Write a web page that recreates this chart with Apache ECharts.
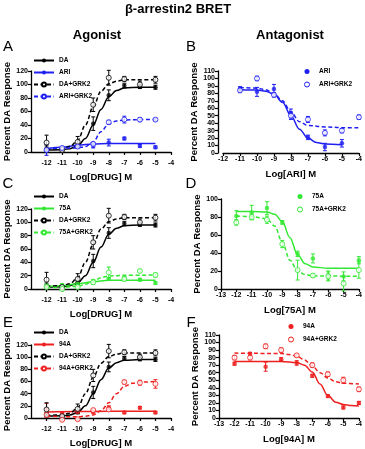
<!DOCTYPE html>
<html><head><meta charset="utf-8">
<script src="https://cdn.jsdelivr.net/npm/echarts@6/dist/echarts.min.js"></script>
<style>html,body{margin:0;padding:0;background:#fff}#c{width:365px;height:449px}</style>
</head><body><div id="c"></div><script>
// ---------- data ----------
const xTicks = [-13,-12,-11,-10,-9,-8,-7,-6,-5,-4];
const dose = [-12,-11,-10,-9,-8,-7,-6,-5];
// DA (shared A, C, E)
const daMean = [5,3,10,42,84,98,97,96];
const daErr = [4,2,3,10,8,3,3,3];
const daFitX = [-12,-11,-10.5,-10,-9.5,-9,-8.5,-8,-7.5,-7,-6,-5];
const daFit = [3,3.5,5,9,20,40,63,82,91,95,96,96];
const daGMean = [14,3,15,70,110,108,100,107];
const daGErr = [11,2,8,10,11,4,5,5];
const daGFitX = [-12,-11,-10.5,-10,-9.5,-9,-8.5,-8,-7.5,-7,-6,-5];
const daGFit = [4,5,8,17,40,67,90,101,105,107,107,107];
// A: ARI agonist
const ariMean = [3,6,8,9,14,20,9,7];
const ariErr = [8,1,2,3,5,2,2,2];
const ariFitX = [-12,-11,-10,-9,-8,-5];
const ariFit = [5,7,10,12,12.5,12.5];
const ariGMean = [3,6,8,12,44,48,48,48];
const ariGErr = [2,2,2,2,3,5,3,2];
const ariGFitX = [-12,-10,-9.5,-9,-8.5,-8,-7.5,-7,-6,-5];
const ariGFit = [5,6,8,15,30,42,46,47.5,48,48];
// B: ARI antagonist
const bDose = [-11,-10,-9,-8,-7,-6,-5];
const bAriMean = [86,82,86,53,21,8,13];
const bAriErr = [3,6,6,6,3,5,5];
const bAriFitX = [-11,-10,-9.5,-9,-8.5,-8,-7.5,-7,-6.5,-6,-5];
const bAriFit = [85,84.5,83,79,68,50,32,20,14,12,11];
const bDoseG = [-11,-10,-9,-8,-7,-6,-5,-4];
const bAriGMean = [84,100,78,50,45,27,30,48];
const bAriGErr = [3,3,3,5,4,4,3,3];
const bAriGFitX = [-11,-10,-9.5,-9,-8.5,-8,-7.5,-7,-6,-5,-4];
const bAriGFit = [88,87,85,80,70,55,42,37,35,34,34];
// C: 75A agonist
const c75Mean = [5,6,8,12,15,16,14,9];
const c75Err = [2,2,2,2,2,2,2,2];
const c75FitX = [-12,-11,-10,-9,-8,-5];
const c75Fit = [4,5,8,11,13,13];
const c75GMean = [3,0,3,10,25,15,27,21];
const c75GErr = [2,2,2,3,8,3,2,3];
const c75GFitX = [-12,-11,-10,-9.5,-9,-8.5,-8,-7,-5];
const c75GFit = [2,2.5,4,7,12,17,19.5,20.5,21];
// D: 75A antagonist
const dDose = [-12,-11,-10,-9,-8,-7,-6,-5,-4];
const d75Mean = [81,85,90,74,39,34,15,14,32];
const d75Err = [6,8,7,2,3,5,5,5,4];
const d75FitX = [-12,-11,-10,-9.5,-9,-8.5,-8,-7.5,-7,-6,-4];
const d75Fit = [86,86,85.5,83,75,57,38,28,24.5,23,23];
const d75GMean = [74,80,77,50,21,15,14,6,21];
const d75GErr = [3,3,4,4,11,2,5,8,9];
const d75GFitX = [-12,-11,-10,-9.5,-9,-8.5,-8,-7.5,-7,-4];
const d75GFit = [81,80.5,78,70,52,32,20,16,14.5,14];
// E: 94A agonist
const e94Mean = [14,7,10,10,17,9,17,9];
const e94Err = [10,2,2,2,3,2,2,2];
const e94FitX = [-12,-10,-8,-5];
const e94Fit = [10,10.5,11,11];
const e94GMean = [5,-3,-2,13,14,59,58,56];
const e94GErr = [3,2,2,2,3,3,4,7];
const e94GFitX = [-12,-10,-9.5,-9,-8.5,-8,-7.5,-7,-6.5,-6,-5];
const e94GFit = [3,2,3,5,12,25,40,52,57,59,60];
// F: 94A antagonist
const fDose = [-12,-11,-10,-9,-8,-7,-6,-5,-4];
const f94Mean = [72,85,68,78,73,56,29,14,20];
const f94Err = [2,2,6,2,3,2,2,2,2];
const f94FitX = [-12,-9,-8,-7.5,-7,-6.5,-6,-5.5,-5,-4.5,-4];
const f94Fit = [75,75,73.5,70,61,45,30,21,18,16.5,16];
const f94GMean = [80,80,95,90,83,70,58,50,38];
const f94GErr = [3,3,3,3,2,3,3,4,3];
const f94GFitX = [-12,-9,-8.5,-8,-7.5,-7,-6.5,-6,-5.5,-5,-4];
const f94GFit = [86,85.5,84,82,77,69,60,53,48,46,45];

// ---------- styling ----------
const BLACK='#000', BLUE='#1f1ff2', GREEN='#33e833', RED='#ee1f1f';
const FONT='Liberation Sans';
const zip=(a,b)=>a.map((v,i)=>[v,b[i]]);
const zip3=(a,b,c)=>a.map((v,i)=>[v,b[i],c[i]]);

const grids = [
  {left:31, top:71, width:140, height:81},   // A
  {left:223, top:71, width:137, height:82},  // B
  {left:31, top:209, width:140, height:80},  // C
  {left:221, top:199, width:139, height:90}, // D
  {left:31, top:345, width:140, height:80},  // E
  {left:219, top:335, width:141, height:83}  // F
];
const axisLine={lineStyle:{color:'#000',width:1.3}};
const tick={length:3,lineStyle:{color:'#000',width:1.2}};
const lab={color:'#000',fontSize:7,fontWeight:'bold',fontFamily:FONT,margin:3};
const xNames=['Log[DRUG] M','Log[ARI] M','Log[DRUG] M','Log[75A] M','Log[DRUG] M','Log[94A] M'];
const xMins=[-13,-12,-13,-13,-13,-13];
const yMax=[120,110,120,100,120,110];
const yInt=[20,10,20,20,20,10];
const xAxes=grids.map((g,i)=>({
  type:'value', gridIndex:i, min:xMins[i], max:-4, interval:1,
  offset:(i%2===0)?5:0,
  axisLine, axisTick:tick, splitLine:{show:false},
  axisLabel:Object.assign({},lab,{showMinLabel:(i%2===1)}),
  name:xNames[i], nameLocation:'middle', nameGap:(i%2===0)?15:16,
  nameTextStyle:{color:'#000',fontSize:9.5,fontWeight:'bold',fontFamily:FONT}
}));
const yAxes=grids.map((g,i)=>({
  type:'value', gridIndex:i, min:0, max:yMax[i], interval:yInt[i],
  offset:(i===1)?5:0,
  axisLine:Object.assign({show:true},axisLine), axisTick:Object.assign({show:true},tick), splitLine:{show:false},
  axisLabel:lab,
  name:'Percent DA Response', nameLocation:'middle', nameGap:(i%2===0)?17:18,
  nameTextStyle:{color:'#000',fontSize:9.5,fontWeight:'bold',fontFamily:FONT}
}));

function markStyle(color,filled){
  return filled?{color,borderWidth:0}:{color:'#fff',borderColor:color,borderWidth:1};
}
const series=[];
function add(gi,name,color,filled,dashed,x,mean,err,fx,fy){
  series.push({
    type:'line', name, xAxisIndex:gi, yAxisIndex:gi, data:zip(fx,fy),
    smooth:0.35, smoothMonotone:'x', showSymbol:false,
    symbol:'circle', symbolSize:4,
    itemStyle:markStyle(color,filled), lineStyle:{color,width:1.5,type:dashed?[4,2.5]:'solid'},
    silent:true, z:2, animation:false
  });
  series.push({
    type:'custom', xAxisIndex:gi, yAxisIndex:gi, data:zip3(x,mean,err), clip:false,
    silent:true, z:3, animation:false,
    renderItem:(p,api)=>{
      const xv=api.value(0), yv=api.value(1), e=api.value(2);
      const t=api.coord([xv,yv+e]), b=api.coord([xv,yv-e]);
      const c=2;
      const st={stroke:color,lineWidth:1};
      return {type:'group',children:[
        {type:'line',shape:{x1:t[0],y1:t[1],x2:b[0],y2:b[1]},style:st},
        {type:'line',shape:{x1:t[0]-c,y1:t[1],x2:t[0]+c,y2:t[1]},style:st},
        {type:'line',shape:{x1:b[0]-c,y1:b[1],x2:b[0]+c,y2:b[1]},style:st}
      ]};
    }
  });
  series.push({
    type:'scatter', xAxisIndex:gi, yAxisIndex:gi, data:zip(x,mean), clip:false,
    symbol:'circle', symbolSize:filled?4.5:5,
    itemStyle:markStyle(color,filled),
    silent:true, z:4, animation:false
  });
}
// A
add(0,'DA',BLACK,true,false,dose,daMean,daErr,daFitX,daFit);
add(0,'ARI',BLUE,true,false,dose,ariMean,ariErr,ariFitX,ariFit);
add(0,'DA+GRK2',BLACK,false,true,dose,daGMean,daGErr,daGFitX,daGFit);
add(0,'ARI+GRK2',BLUE,false,true,dose,ariGMean,ariGErr,ariGFitX,ariGFit);
// B
add(1,'ARI ',BLUE,true,false,bDose,bAriMean,bAriErr,bAriFitX,bAriFit);
add(1,'ARI+GRK2 ',BLUE,false,true,bDoseG,bAriGMean,bAriGErr,bAriGFitX,bAriGFit);
// C
add(2,'DA',BLACK,true,false,dose,daMean,daErr,daFitX,daFit);
add(2,'75A',GREEN,true,false,dose,c75Mean,c75Err,c75FitX,c75Fit);
add(2,'DA+GRK2',BLACK,false,true,dose,daGMean,daGErr,daGFitX,daGFit);
add(2,'75A+GRK2',GREEN,false,true,dose,c75GMean,c75GErr,c75GFitX,c75GFit);
// D
add(3,'75A ',GREEN,true,false,dDose,d75Mean,d75Err,d75FitX,d75Fit);
add(3,'75A+GRK2 ',GREEN,false,true,dDose,d75GMean,d75GErr,d75GFitX,d75GFit);
// E
add(4,'DA',BLACK,true,false,dose,daMean,daErr,daFitX,daFit);
add(4,'94A',RED,true,false,dose,e94Mean,e94Err,e94FitX,e94Fit);
add(4,'DA+GRK2',BLACK,false,true,dose,daGMean,daGErr,daGFitX,daGFit);
add(4,'94A+GRK2',RED,false,true,dose,e94GMean,e94GErr,e94GFitX,e94GFit);
// F
add(5,'94A ',RED,true,false,fDose,f94Mean,f94Err,f94FitX,f94Fit);
add(5,'94A+GRK2 ',RED,false,true,fDose,f94GMean,f94GErr,f94GFitX,f94GFit);

const legTxt={color:'#000',fontSize:6.5,fontWeight:'bold',fontFamily:FONT};
function lineLegend(left,top,names){
  return {orient:'vertical',left,top,padding:0,itemGap:5,itemWidth:20,itemHeight:5,
    selectedMode:false,textStyle:legTxt,data:names};
}
function dotLegend(left,top,names,color){
  return {orient:'vertical',left,top,padding:0,itemGap:6,itemWidth:14,itemHeight:5,
    selectedMode:false,textStyle:legTxt,
    data:[{name:names[0],icon:'circle',itemStyle:markStyle(color,true)},
          {name:names[1],icon:'circle',itemStyle:markStyle(color,false)}]};
}
const legends=[
  lineLegend(33,57,['DA','ARI','DA+GRK2','ARI+GRK2']),
  dotLegend(304,68,['ARI ','ARI+GRK2 '],BLUE),
  lineLegend(33,193,['DA','75A','DA+GRK2','75A+GRK2']),
  dotLegend(297,193,['75A ','75A+GRK2 '],GREEN),
  lineLegend(33,329,['DA','94A','DA+GRK2','94A+GRK2']),
  dotLegend(288,323,['94A ','94A+GRK2 '],RED)
];

function txt(x,y,s,font){return {type:'text',x,y,style:{text:s,font,fill:'#000',textAlign:'center',textVerticalAlign:'middle'}};}
const hb='bold 13px "'+FONT+'"';
const lf='15px "'+FONT+'"';
const graphic=[
  txt(178,9,'β-arrestin2 BRET',hb),
  txt(97,35,'Agonist',hb),
  txt(290,35,'Antagonist',hb),
  txt(8,47,'A',lf), txt(191,47,'B',lf),
  txt(8,184,'C',lf), txt(191,184,'D',lf),
  txt(8,323,'E',lf), txt(191,323,'F',lf)
];

const chart=echarts.init(document.getElementById('c'),null,{renderer:'canvas'});
chart.setOption({animation:false,backgroundColor:'#fff',grid:grids,xAxis:xAxes,yAxis:yAxes,
  series,legend:legends,graphic});
</script></body></html>
